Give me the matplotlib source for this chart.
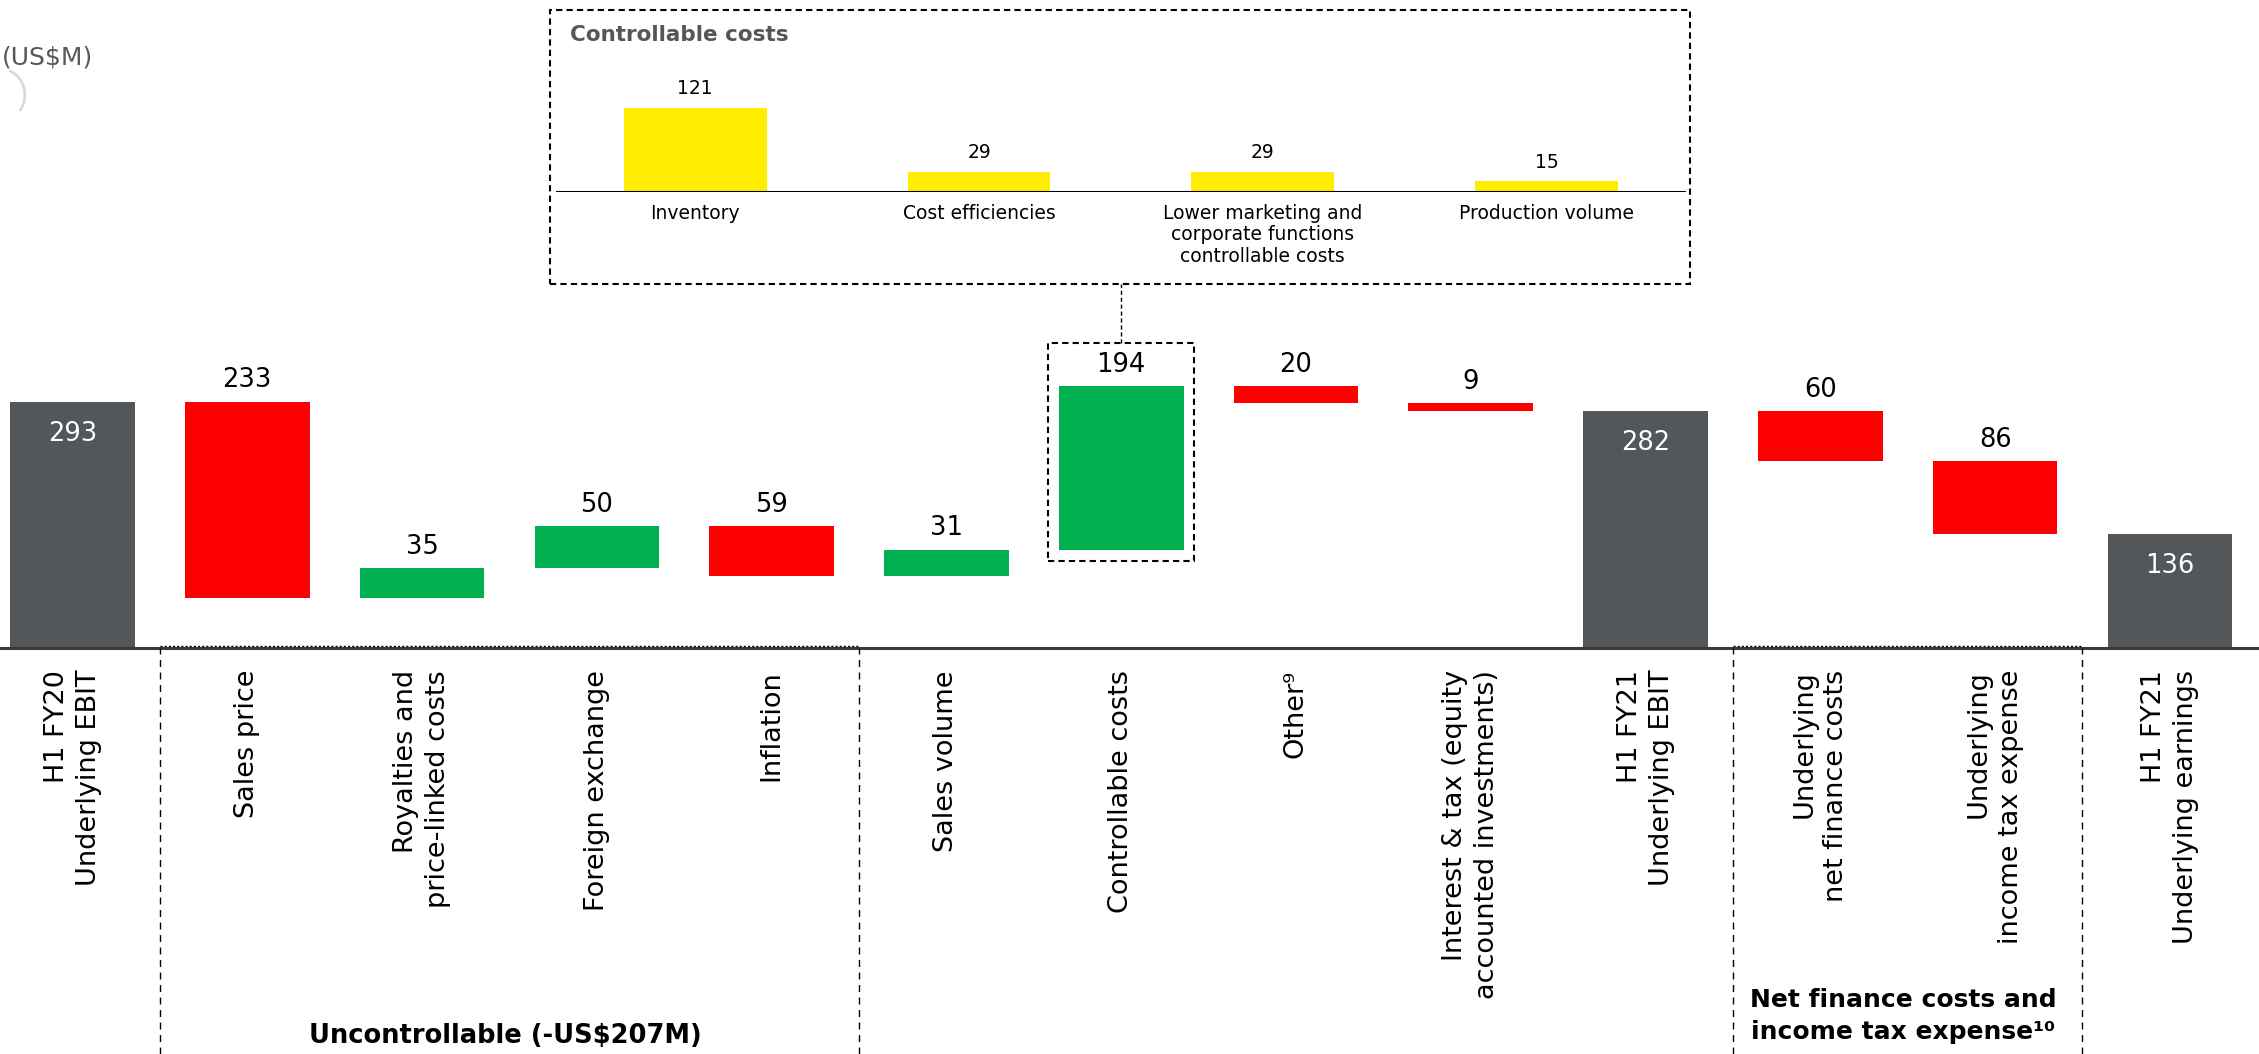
import matplotlib.pyplot as plt
import matplotlib.patches as mpatches
from matplotlib.lines import Line2D
from matplotlib.transforms import blended_transform_factory

categories = [
    "H1 FY20\nUnderlying EBIT",
    "Sales price",
    "Royalties and\nprice-linked costs",
    "Foreign exchange",
    "Inflation",
    "Sales volume",
    "Controllable costs",
    "Other\u2079",
    "Interest & tax (equity\naccounted investments)",
    "H1 FY21\nUnderlying EBIT",
    "Underlying\nnet finance costs",
    "Underlying\nincome tax expense",
    "H1 FY21\nUnderlying earnings",
]
values = [293, -233, 35, 50, -59, 31, 194, -20, -9, 282, -60, -86, 136]
is_total = [True, False, False, False, False, False, False, False, False, True, False, False, True]

inset_categories = [
    "Inventory",
    "Cost efficiencies",
    "Lower marketing and\ncorporate functions\ncontrollable costs",
    "Production volume",
]
inset_values = [121, 29, 29, 15]

GRAY = "#54575a"
RED = "#ff0000"
GREEN = "#00b050"
YELLOW = "#ffed00"

W, H = 2259, 1054
PPU = 0.841          # pixels per unit in the main chart
base_px = 648        # baseline position from the top

fig = plt.figure(figsize=(W / 100, H / 100), dpi=100)

ax_bottom = 1 - base_px / H
ax_h = 0.27
ax = fig.add_axes([0, ax_bottom, 1, ax_h])
ax.set_xlim(-0.415, 12.51)
ax.set_ylim(0, ax_h * H / PPU)
ax.axis("off")

# waterfall
running = 0
for i, v in enumerate(values):
    if is_total[i]:
        bottom, height, color = 0, v, GRAY
        running = v
    else:
        if v >= 0:
            bottom, height, color = running, v, GREEN
        else:
            bottom, height, color = running + v, -v, RED
        running += v
    ax.bar(i, height, bottom=bottom, width=0.713, color=color, clip_on=False)
    top = bottom + height
    if is_total[i]:
        ax.annotate(str(v), (i, top), xytext=(0, -14), textcoords="offset points",
                    ha="center", va="top", color="white", fontsize=18.5)
    else:
        ax.annotate(str(abs(v)), (i, top), xytext=(0, 6), textcoords="offset points",
                    ha="center", va="bottom", color="black", fontsize=18.5)

ax.axhline(0, color="#3a3a3a", lw=2.2, clip_on=False)
ax.plot([0.5, 4.5], [2.5, 2.5], color="black", lw=1, ls=(0, (1.5, 1.5)), clip_on=False)
ax.plot([9.5, 11.5], [2.5, 2.5], color="black", lw=1, ls=(0, (1.5, 1.5)), clip_on=False)

# category labels
for i, c in enumerate(categories):
    ax.text(i, -22 / PPU, c, rotation=90, ha="center", va="top",
            multialignment="right", fontsize=19.5, linespacing=1.3, color="black")

# group separators
tr = blended_transform_factory(ax.transData, fig.transFigure)
for xs in [0.5, 4.5, 9.5, 11.5]:
    fig.add_artist(Line2D([xs, xs], [0, ax_bottom], transform=tr, color="black",
                          lw=1, ls=(0, (5, 4))))

fig.text(351 * 1.4407 / W, 1 - 1036 / H, "Uncontrollable (-US$207M)", ha="center",
         va="center", fontsize=18.5, fontweight="bold")
fig.text(1321 * 1.4407 / W, 1 - 1016 / H, "Net finance costs and\nincome tax expense\u00b9\u2070",
         ha="center", va="center", fontsize=18, fontweight="bold", linespacing=1.45)

# dashed box around controllable costs bar and connector
ax.add_patch(mpatches.Rectangle((5.584, 103), 0.832, 260, fill=False, ec="black",
                                lw=1.5, ls=(0, (3, 2)), clip_on=False))
ax.plot([6, 6], [363, 433], color="black", lw=1, ls=(0, (3, 2)), clip_on=False)

# inset box
fig.add_artist(mpatches.Rectangle((0.2435, 0.7306), 0.5046, 0.2599, fill=False,
                                  ec="black", lw=1.5, ls=(0, (3, 2)),
                                  transform=fig.transFigure))
fig.text(570 / W, 1 - 35 / H, "Controllable costs", ha="left", va="center",
         fontsize=15.5, fontweight="bold", color=GRAY)

ins_bottom = 1 - 191.6 / H
ins_h = 0.092
ax2 = fig.add_axes([0.2462, ins_bottom, 0.5, ins_h])
ax2.set_xlim(-0.49, 3.49)
ax2.set_ylim(0, ins_h * H / 0.6915)
ax2.axis("off")
ax2.bar(range(len(inset_values)), inset_values, width=0.503, color=YELLOW)
ax2.axhline(0, color="black", lw=1.5)
for i, v in enumerate(inset_values):
    ax2.annotate(str(v), (i, v), xytext=(0, 7), textcoords="offset points",
                 ha="center", va="bottom", fontsize=13.5)
    ax2.annotate(inset_categories[i], (i, 0), xytext=(0, -9), textcoords="offset points",
                 ha="center", va="top", fontsize=13.5, linespacing=1.15)

fig.text(0.001, 1 - 58 / H, "(US$M)", ha="left", va="center", fontsize=18, color="#595959")

# faint logo fragment under the unit label
fig.add_artist(mpatches.Arc((0.0, 1 - 95 / H), 0.022, 0.05, theta1=-60, theta2=80,
                            ec="#d9d9d9", lw=2, transform=fig.transFigure))

fig.savefig("out.png", dpi=100)
